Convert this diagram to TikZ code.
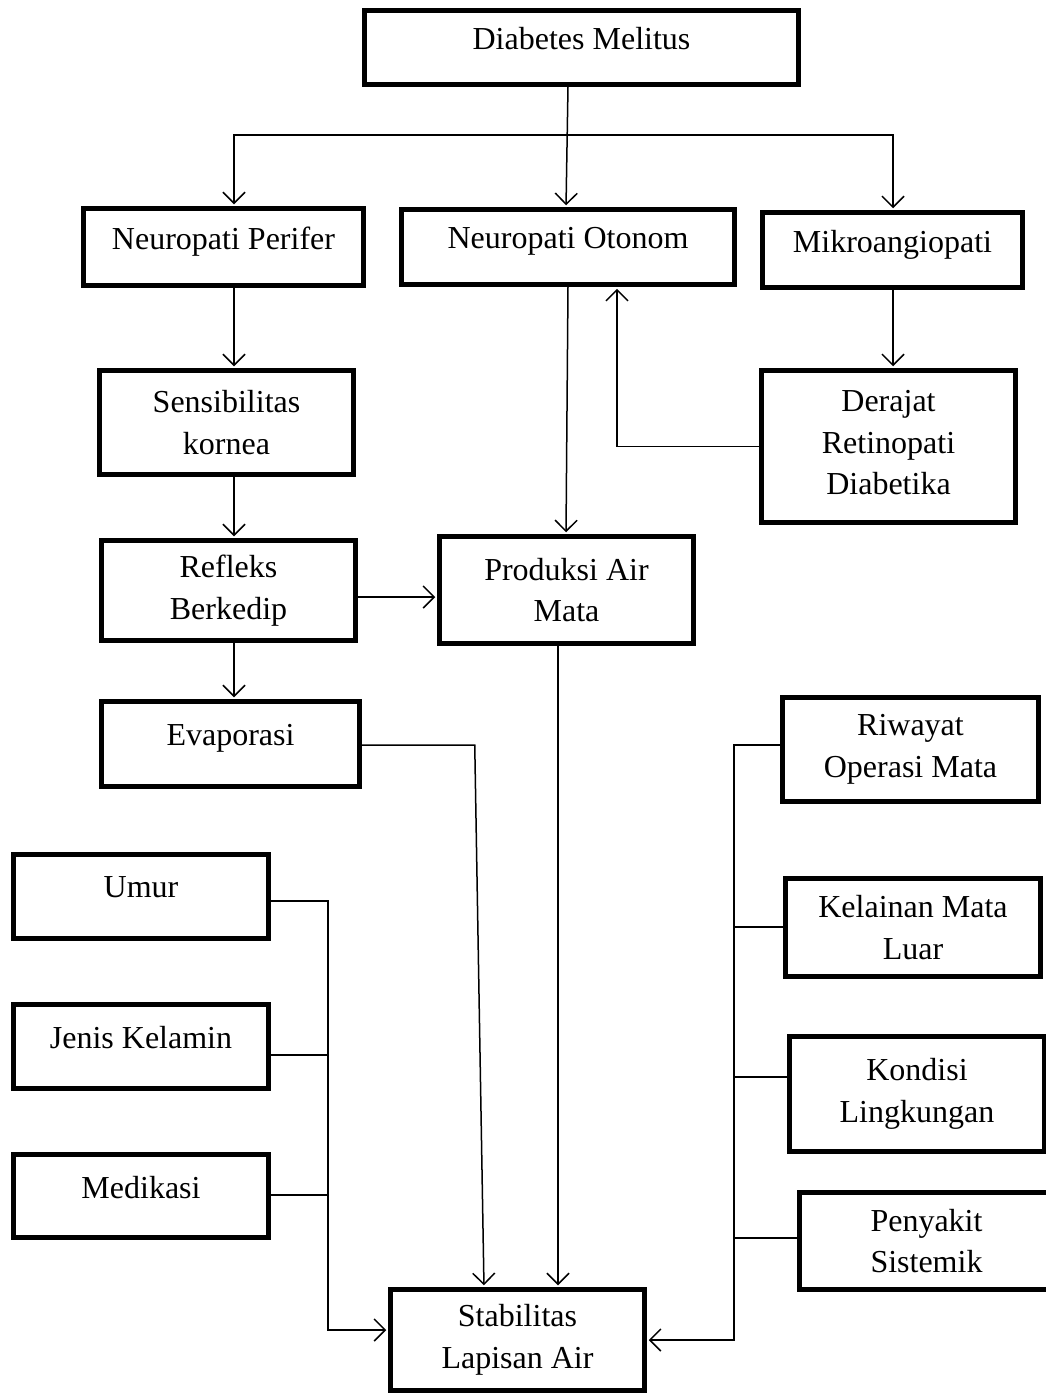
\documentclass[tikz,border=0pt]{standalone}
\usepackage{fontspec}
\setmainfont{Liberation Serif}
\usetikzlibrary{arrows.meta,positioning}

\begin{document}
\begin{tikzpicture}[
  x=1pt, y=-1pt,
  >={Straight Barb[length=11pt,width=22pt]},
  font=\fontsize{32}{41.5}\selectfont,
  box/.style={draw, line width=4.5pt, align=center, inner sep=0pt},
  single/.style={box, text depth=18pt},
  flow/.style={->, line width=1.5pt, shorten >=2pt},
  link/.style={line width=1.5pt}
]
  \useasboundingbox (0,0) rectangle (1046,1393);

  \node[single, minimum width=434, minimum height=74] (diabetes) at (581.5,47.5) {Diabetes Melitus};
  \node[single, minimum width=280, minimum height=77] (perifer) at (223.5,247) {Neuropati Perifer};
  \node[single, minimum width=333, minimum height=75] (otonom) at (568,247) {Neuropati Otonom};
  \node[single, minimum width=260, minimum height=75] (mikro) at (892.5,250) {Mikroangiopati};
  \node[box, minimum width=254, minimum height=104] (sensib) at (226.5,422.5) {Sensibilitas\\kornea};
  \node[box, minimum width=254, minimum height=152, text depth=8pt] (retino) at (888.5,446.5) {Derajat\\Retinopati\\Diabetika};
  \node[box, minimum width=254, minimum height=100] (refleks) at (228.5,590.5) {Refleks\\Berkedip};
  \node[box, minimum width=254, minimum height=107] (produksi) at (566.5,590) {Produksi Air\\Mata};
  \node[single, minimum width=258, minimum height=85] (evap) at (230.5,744) {Evaporasi};
  \node[box, minimum width=256, minimum height=104] (riwayat) at (910.5,749.5) {Riwayat\\Operasi Mata};
  \node[box, minimum width=255, minimum height=98] (kelainan) at (913,927.5) {Kelainan Mata\\Luar};
  \node[box, minimum width=255, minimum height=115] (kondisi) at (917,1094) {Kondisi\\Lingkungan};
  \node[box, minimum width=254, minimum height=97] (penyakit) at (926.5,1241) {Penyakit\\Sistemik};
  \node[single, minimum width=255, minimum height=84] (umur) at (141,896.5) {Umur};
  \node[single, minimum width=255, minimum height=84] (kelamin) at (141,1046.5) {Jenis Kelamin};
  \node[single, minimum width=255, minimum height=83] (medikasi) at (141,1196) {Medikasi};
  \node[box, minimum width=254, minimum height=101] (stabil) at (517.5,1340) {Stabilitas\\Lapisan Air};

  \coordinate (split) at (568,135);
  \coordinate (lbus) at (328,1330);
  \coordinate (rbus) at (734,1340);

  \draw[flow] ([xshift=-13.5pt]diabetes.south) -- ([xshift=-2pt]otonom.north);
  \draw[flow] (split) -| ([xshift=10.5pt]perifer.north);
  \draw[flow] (split) -| ([xshift=0.5pt]mikro.north);
  \draw[flow] ([xshift=10.5pt]perifer.south) -- ([xshift=7.5pt]sensib.north);
  \draw[flow] ([xshift=0.5pt]mikro.south) -- ([xshift=4.5pt]retino.north);
  \draw[flow] (retino.west) -| ([xshift=49pt]otonom.south);
  \draw[flow] (otonom.south) -- ([xshift=-0.5pt]produksi.north);
  \draw[flow] ([xshift=7.5pt]sensib.south) -- ([xshift=5.5pt]refleks.north);
  \draw[flow] ([yshift=-6.5pt]refleks.east) -- ([yshift=-6.5pt]refleks.east -| produksi.west);
  \draw[flow] ([xshift=5.5pt]refleks.south) -- ([xshift=3.5pt]evap.north);
  \draw[flow] ([yshift=-1pt]evap.east) -- ++(113,0) -- ([xshift=-33.5pt]stabil.north);
  \draw[flow] ([xshift=-8.5pt]produksi.south) -- ([xshift=40.5pt]stabil.north);

  % faktor kiri
  \draw[flow] ([yshift=-4.5pt]umur.east) -| (lbus) -- (lbus -| stabil.west);
  \draw[link] ([yshift=-8.5pt]kelamin.east) -- ([yshift=-8.5pt]kelamin.east -| lbus);
  \draw[link] ([yshift=1pt]medikasi.east) -- ([yshift=1pt]medikasi.east -| lbus);

  % faktor kanan
  \draw[flow] ([yshift=4.5pt]riwayat.west) -| (rbus) -- (rbus -| stabil.east);
  \draw[link] ([yshift=0.5pt]kelainan.west) -- ([yshift=0.5pt]kelainan.west -| rbus);
  \draw[link] ([yshift=17pt]kondisi.west) -- ([yshift=17pt]kondisi.west -| rbus);
  \draw[link] ([yshift=3pt]penyakit.west) -- ([yshift=3pt]penyakit.west -| rbus);
\end{tikzpicture}
\end{document}
